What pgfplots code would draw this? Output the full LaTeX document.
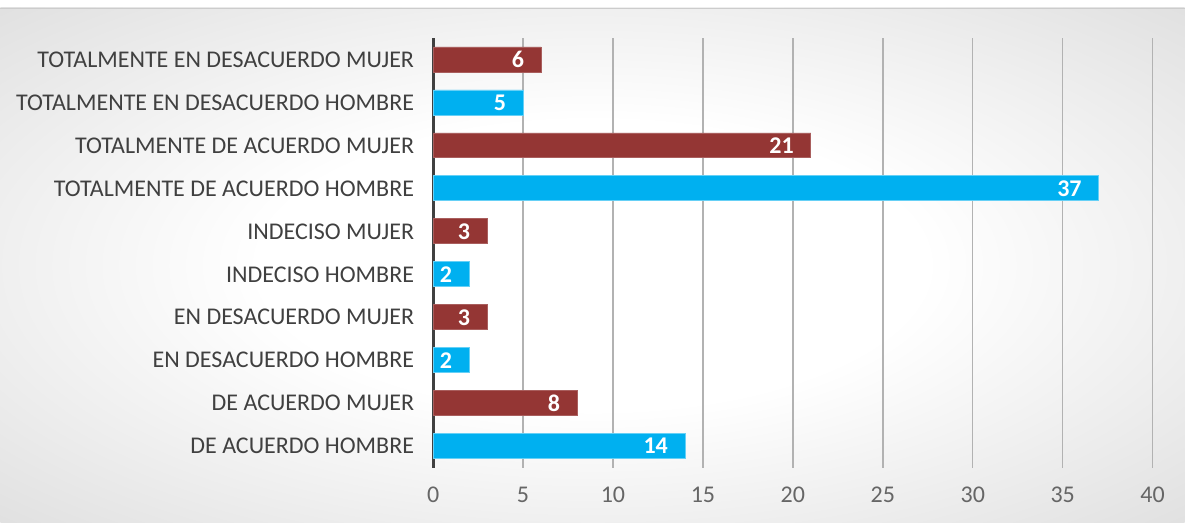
\documentclass[border=0pt]{standalone}
\usepackage{fontspec}
\setmainfont{Carlito}
\usepackage{pgfplots}
\pgfplotsset{compat=1.18}
\definecolor{mujer}{HTML}{943634}
\definecolor{hombre}{HTML}{00B0F0}
\definecolor{lbl}{HTML}{404040}
\pgfdeclareradialshading{panel}{\pgfpoint{0bp}{0bp}}{color(0bp)=(white); color(14bp)=(white); color(50bp)=(black!20); color(72bp)=(black!28)}
\begin{document}
\begin{tikzpicture}
% background panel
\fill[white] (0pt,0pt) rectangle (592.5pt,261.5pt);
\shade[shading=panel] (0pt,0pt) rectangle (592.5pt,257.5pt);
\draw[black!20, line width=0.4pt] (0pt,257.5pt) -- (592.5pt,257.5pt);
\begin{axis}[
    at={(216.5pt,27.5pt)}, anchor=south west,
    scale only axis,
    width=360pt, height=215pt,
    xbar, bar width=12.5pt, bar shift=0pt,
    xmin=0, xmax=40, ymin=-0.5, ymax=9.5,
    xtick={0,5,...,40},
    ytick={0,...,9},
    yticklabels={DE ACUERDO HOMBRE, DE ACUERDO MUJER, EN DESACUERDO HOMBRE, EN DESACUERDO MUJER, INDECISO HOMBRE, INDECISO MUJER, TOTALMENTE DE ACUERDO HOMBRE, TOTALMENTE DE ACUERDO MUJER, TOTALMENTE EN DESACUERDO HOMBRE, TOTALMENTE EN DESACUERDO MUJER},
    major tick length=0pt,
    axis y line=left, axis x line=bottom,
    x axis line style={draw=none},
    y axis line style={-, line width=1.4pt, draw=black!75},
    xmajorgrids, grid style={black!30, line width=0.7pt},
    /pgf/number format/assume math mode=true,
    ticklabel style={font=\fontsize{12}{14}\selectfont},
    yticklabel style={text=lbl, xshift=-6pt},
    xticklabel style={text=black!60, yshift=-6pt},
    nodes near coords,
    nodes near coords style={anchor=east, xshift=-5pt, text=white, font=\fontsize{12}{14}\selectfont\bfseries},
  ]
  \addplot[fill=hombre, draw=hombre!60] coordinates {(14,0) (2,2) (2,4) (37,6) (5,8)};
  \addplot[fill=mujer, draw=mujer!80] coordinates {(8,1) (3,3) (3,5) (21,7) (6,9)};
\end{axis}
\end{tikzpicture}
\end{document}
